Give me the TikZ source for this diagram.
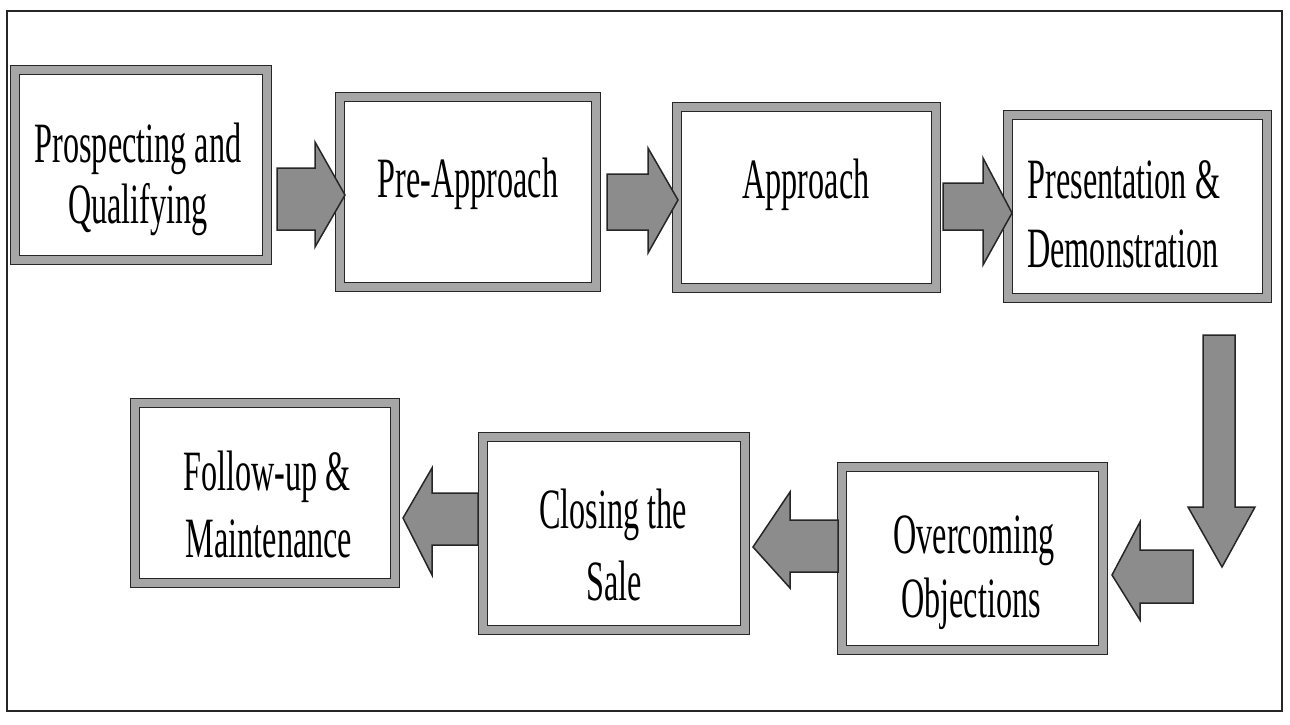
\documentclass[tikz,border=0pt]{standalone}
\usepackage{fontspec}
\setmainfont[FakeStretch=0.565]{Liberation Serif}
\tikzset{
  stepbox/.style={rectangle, draw=black!85, line width=1pt, double=black!35, double distance=8pt, fill=white, inner sep=0pt},
  lbl/.style={anchor=base, inner sep=0pt, font=\fontsize{57}{60}\selectfont},
  blockarrow/.style={fill=black!45, draw=black!85, line width=1.5pt, line join=miter},
  frame/.style={draw=black!85, line width=2pt}
}
\begin{document}
\begin{tikzpicture}[x=1pt,y=-1pt]
\useasboundingbox (0,0) rectangle (1290,724);
\draw[frame] (7,11) rectangle (1282,711);

% boxes
\node[stepbox, minimum width=252pt, minimum height=190pt] (b1) at (141,165) {};
\node[stepbox, minimum width=256pt, minimum height=190pt] (b2) at (468,192) {};
\node[stepbox, minimum width=259pt, minimum height=181pt] (b3) at (806.5,197.5) {};
\node[stepbox, minimum width=259pt, minimum height=183pt] (b4) at (1137.5,206.5) {};
\node[stepbox, minimum width=261pt, minimum height=183pt] (b5) at (972.5,558.5) {};
\node[stepbox, minimum width=262pt, minimum height=193pt] (b6) at (614,533.5) {};
\node[stepbox, minimum width=260pt, minimum height=180pt] (b7) at (265,493) {};

% labels
\node[lbl] (t1a) at (138,162) {Prospecting and};
\node[lbl] (t1b) at (138,223) {Qualifying};
\node[lbl] (t2) at (468,197) {Pre-Approach};
\node[lbl] (t3) at (806,198) {Approach};
\node[lbl] (t4a) at (1124,198) {Presentation \&};
\node[lbl] (t4b) at (1123,267) {Demonstration};
\node[lbl] (t5a) at (974,553) {Overcoming};
\node[lbl] (t5b) at (971,617) {Objections};
\node[lbl] (t6a) at (613,528) {Closing the};
\node[lbl] (t6b) at (614,600) {Sale};
\node[lbl] (t7a) at (267,490) {Follow-up \&};
\node[lbl] (t7b) at (269,557) {Maintenance};

% block arrows
\draw[blockarrow] (277,168) -- (315,168) -- (315,142) -- (345,195) -- (315,247) -- (315,230) -- (277,230) -- cycle;
\draw[blockarrow] (607,174) -- (648,174) -- (648,148) -- (678,200) -- (648,253) -- (648,230) -- (607,230) -- cycle;
\draw[blockarrow] (943,183) -- (983,183) -- (983,158) -- (1012,213) -- (983,265) -- (983,230) -- (943,230) -- cycle;
\draw[blockarrow] (1203,335) -- (1235,335) -- (1235,507) -- (1255,507) -- (1222,567) -- (1188,507) -- (1203,507) -- cycle;
\draw[blockarrow] (1193,550) -- (1140,550) -- (1140,522) -- (1112,575) -- (1140,620) -- (1140,603) -- (1193,603) -- cycle;
\draw[blockarrow] (838,520) -- (790,520) -- (790,492) -- (753,547) -- (790,588) -- (790,572) -- (838,572) -- cycle;
\draw[blockarrow] (478,493) -- (432,493) -- (432,468) -- (403,518) -- (432,575) -- (432,545) -- (478,545) -- cycle;
\end{tikzpicture}
\end{document}
